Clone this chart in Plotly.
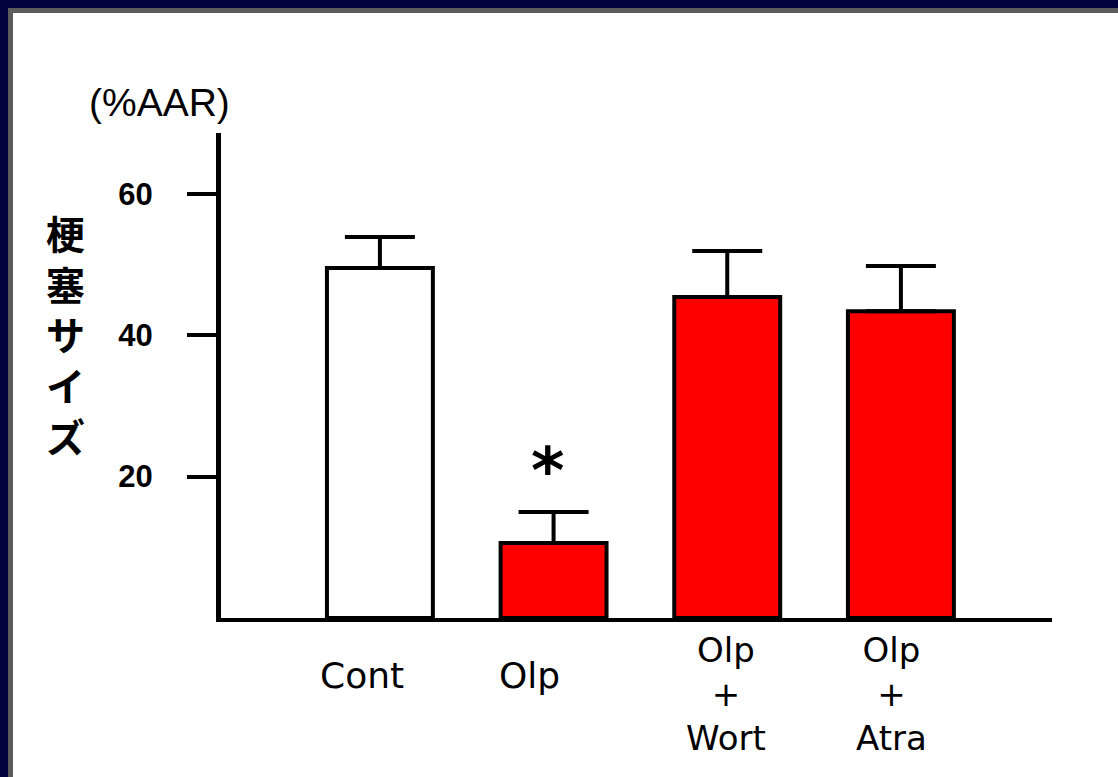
import plotly.graph_objects as go

# Infarct size (% of area at risk) per treatment group
groups = ["Cont", "Olp", "Olp+Wort", "Olp+Atra"]
tick_labels = ["Cont", "Olp", "Olp<br>+<br>Wort", "Olp<br>+<br>Atra"]
infarct = [49.5, 10.6, 45.4, 43.4]
sem = [4.4, 4.4, 6.5, 6.4]
bar_colors = ["#ffffff", "#ff0000", "#ff0000", "#ff0000"]
y_ticks = [20, 40, 60]
y_title = "梗塞サイズ"
unit_label = "(%AAR)"
sig_group = "Olp"

W, H = 1118, 777
L, R, T, B = 221, 66, 133, 159
PW, PH = W - L - R, H - T - B


def px_x(px):
    return (px - L) / PW


def px_y(py):
    return (H - B - py) / PH


fig = go.Figure()
fig.add_trace(go.Bar(
    x=groups, y=infarct, width=0.61,
    marker=dict(color=bar_colors, line=dict(color="black", width=4)),
    error_y=dict(type="data", array=sem, arrayminus=[0] * len(sem), symmetric=False,
                 color="black", thickness=4, width=35),
    showlegend=False,
))

annotations = []
# category labels under the bars
label_shift = [-18, -24, -1, -9]
for g, txt, dx in zip(groups, tick_labels, label_shift):
    multi = "<br>" in txt
    annotations.append(dict(
        x=g, xref="x", y=px_y(694 if multi else 675), yref="paper", text=txt,
        showarrow=False, xshift=dx, xanchor="center", yanchor="middle", align="center",
        font=dict(family="DejaVu Sans", size=34 if multi else 36, color="black")))

# vertical stacked axis title
annotations.append(dict(
    x=px_x(65), xref="paper", y=px_y(333), yref="paper",
    text="<b>" + "<br>".join(y_title) + "</b>",
    showarrow=False, xanchor="center", yanchor="middle", align="center",
    font=dict(family="Noto Sans CJK JP", size=39, color="black")))

annotations.append(dict(
    x=px_x(159), xref="paper", y=px_y(102), yref="paper", text=unit_label,
    showarrow=False, xanchor="center", yanchor="middle",
    font=dict(family="Liberation Sans, Arial", size=39, color="black")))

# significance marker above the Olp group
gi = groups.index(sig_group)
annotations.append(dict(
    x=sig_group, xref="x", y=infarct[gi] + sem[gi], yref="y", text="<b>*</b>",
    showarrow=False, xanchor="center", yanchor="bottom", xshift=-6, yshift=2,
    font=dict(family="DejaVu Sans", size=64, color="black")))

# frame: dark blue outer band with grey inner band on top and left
navy = "#02023f"
grey = "#5c5c5c"
shapes = [
    dict(type="rect", xref="paper", yref="paper", x0=px_x(0), x1=px_x(W), y0=px_y(8), y1=px_y(0),
         fillcolor=navy, line=dict(width=0), layer="above"),
    dict(type="rect", xref="paper", yref="paper", x0=px_x(0), x1=px_x(8), y0=px_y(H), y1=px_y(0),
         fillcolor=navy, line=dict(width=0), layer="above"),
    dict(type="rect", xref="paper", yref="paper", x0=px_x(8), x1=px_x(W), y0=px_y(13), y1=px_y(8),
         fillcolor=grey, line=dict(width=0), layer="above"),
    dict(type="rect", xref="paper", yref="paper", x0=px_x(8), x1=px_x(13), y0=px_y(H), y1=px_y(8),
         fillcolor=grey, line=dict(width=0), layer="above"),
]

fig.update_layout(
    width=W, height=H,
    margin=dict(l=L, r=R, t=T, b=B, pad=0),
    paper_bgcolor="white", plot_bgcolor="white",
    annotations=annotations, shapes=shapes,
    bargap=0.3,
    xaxis=dict(type="category", range=[-0.915, 3.87], showline=True, linecolor="black",
               linewidth=4, ticks="", showticklabels=False, showgrid=False, zeroline=False),
    yaxis=dict(range=[0, 68.6], showline=True, linecolor="black", linewidth=5,
               ticks="outside", ticklen=29, tickwidth=4, tickcolor="black",
               tickvals=y_ticks, ticktext=[f"<b>{v}</b>" for v in y_ticks],
               tickfont=dict(family="Liberation Sans, Arial", size=31, color="black"),
               ticklabelstandoff=28, showgrid=False, zeroline=False),
)

fig.write_html("out.html")
